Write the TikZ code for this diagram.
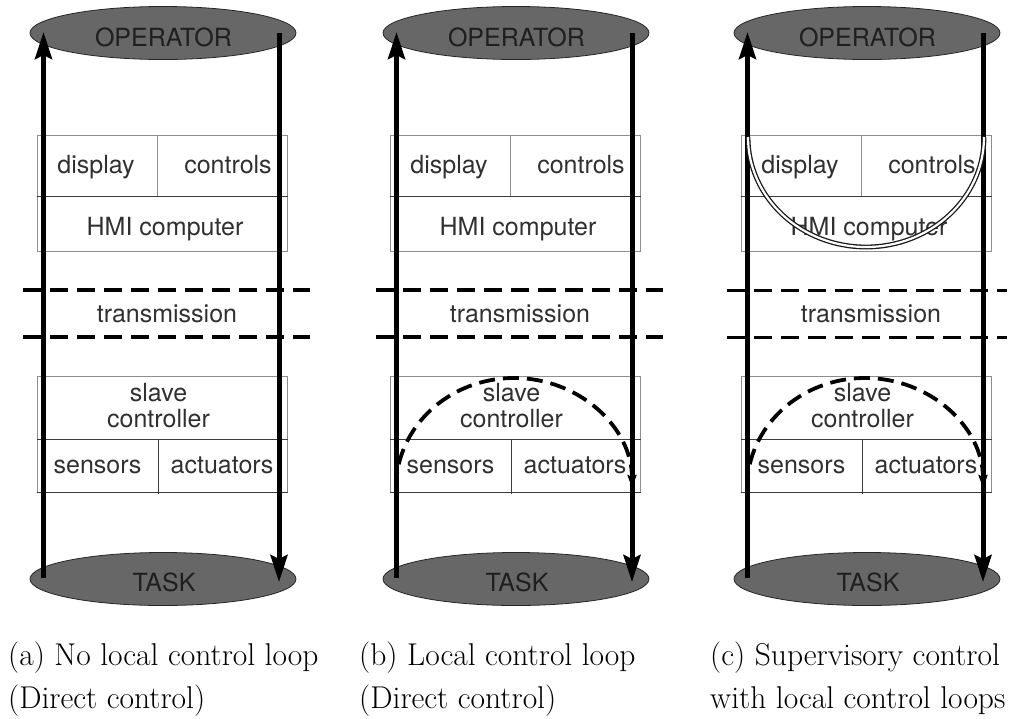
\documentclass[tikz,border=0pt]{standalone}
\usepackage{fontspec}
\newfontfamily\helv{TeX Gyre Heros}
\usetikzlibrary{shapes.geometric,arrows.meta}

\definecolor{ellfill}{HTML}{676767}
\definecolor{boxline}{HTML}{8E8E8E}
\definecolor{cellline}{HTML}{3C3C3C}
\definecolor{labeltext}{HTML}{303030}

\tikzset{
  x=1pt, y=-1pt,
  endpoint/.style={ellipse, draw=black!85, line width=0.8pt, fill=ellfill,
    minimum width=266pt, minimum height=53pt, inner sep=0pt},
  etext/.style={font=\helv\fontsize{25}{30}\selectfont, text=black!88,
    inner sep=0pt, anchor=base},
  boxframe/.style={draw=boxline, line width=1pt, inner sep=0pt,
    minimum width=250pt, minimum height=116pt},
  cellsep/.style={draw=cellline, line width=0.9pt},
  ltext/.style={font=\helv\fontsize{25}{26}\selectfont, text=labeltext,
    inner sep=0pt, anchor=base, align=center},
  flow/.style={line width=5pt, -{Stealth[length=27pt,width=17pt,inset=4pt]}},
  netline/.style={line width=#1, dash pattern=on 18pt off 9pt},
  netline/.default=3.2pt,
  localloop/.style={line width=3.8pt, dash pattern=on 16pt off 8pt,
    -{Stealth[length=13pt,width=9pt,inset=2pt]}},
  superloop/.style={double, draw=black!90, line width=1.3pt, double distance=2.2pt},
  captext/.style={font=\fontsize{31.5}{36}\selectfont, anchor=base west, inner sep=0pt}
}

% One control-architecture column: #1 x offset, #2 name suffix,
% #3 right end of the transmission lines, #4 their width
\newcommand\ctrlcolumn[4]{%
  \begin{scope}[xshift=#1pt]
    % operator and task
    \node[endpoint] (op#2) at (163,33) {};
    \node[etext] (opl#2) at (163.5,46) {OPERATOR};
    \node[endpoint] (task#2) at (163,579) {};
    \node[etext] (taskl#2) at (164,591) {TASK};
    % HMI block
    \node[boxframe] (hmi#2) at (162,193) {};
    \draw[cellsep] (hmi#2.west |- 0,196) -- (hmi#2.east |- 0,196);
    \draw[draw=boxline, line width=0.9pt] (157,135) -- (157,196);
    \node[ltext] (disp#2) at (96,173) {display};
    \node[ltext] (ctrl#2) at (228,173) {controls};
    \node[ltext] (hmil#2) at (165,235) {HMI computer};
    % transmission layer
    \coordinate (t1a#2) at (23,290);  \coordinate (t1b#2) at (#3,290);
    \coordinate (t2a#2) at (23,337);  \coordinate (t2b#2) at (#3,337);
    \draw[netline=#4] (t1a#2) -- (t1b#2);
    \draw[netline=#4] (t2a#2) -- (t2b#2);
    \node[ltext] (trans#2) at (167,322) {transmission};
    % slave block
    \node[boxframe] (slave#2) at (162,434) {};
    \draw[cellsep] (slave#2.west |- 0,439) -- (slave#2.east |- 0,439);
    \draw[cellsep] (slave#2.south west) -- (slave#2.south east);
    \draw[cellsep] (158,439) -- (158,494);
    \node[ltext] (slavel#2) at (158.5,427) {slave\\controller};
    \node[ltext] (sens#2) at (97.5,473) {sensors};
    \node[ltext] (act#2) at (222,473) {actuators};
    % operator <-> task information flow
    \coordinate (upfrom#2) at (43.5,578);
    \coordinate (upto#2) at (43.5,32);
    \coordinate (downfrom#2) at (279,33);
    \coordinate (downto#2) at (279,582);
    \draw[flow] (upfrom#2) -- (upto#2);
    \draw[flow] (downfrom#2) -- (downto#2);
  \end{scope}}

\begin{document}
\begin{tikzpicture}
  \useasboundingbox (0,0) rectangle (1009,718);

  \ctrlcolumn{0}{A}{310}{3.2pt}
  \ctrlcolumn{353}{B}{310}{3.8pt}
  \ctrlcolumn{704}{C}{303}{3.0pt}

  % local loop closed in the slave controller
  \begin{scope}[xshift=353pt]
    \coordinate (llB) at (43,488);
    \draw[localloop] (llB) arc[start angle=180, end angle=360, x radius=118, y radius=110];
  \end{scope}
  \begin{scope}[xshift=704pt]
    \coordinate (llC) at (43,488);
    \draw[localloop] (llC) arc[start angle=180, end angle=360, x radius=118, y radius=110];
    % supervisory loop closed in the HMI computer
    \coordinate (slC) at (44,137);
    \draw[superloop] (slC) arc[start angle=180, end angle=0, x radius=118, y radius=110];
  \end{scope}

  % captions
  \node[captext] (capA1) at (8,665) {(a) No local control loop};
  \node[captext] (capA2) at (8,708) {(Direct control)};
  \node[captext] (capB1) at (359,665) {(b) Local control loop};
  \node[captext] (capB2) at (359,708) {(Direct control)};
  \node[captext] (capC1) at (710,665) {(c) Supervisory control};
  \node[captext] (capC2) at (710,708) {with local control loops};
\end{tikzpicture}
\end{document}
